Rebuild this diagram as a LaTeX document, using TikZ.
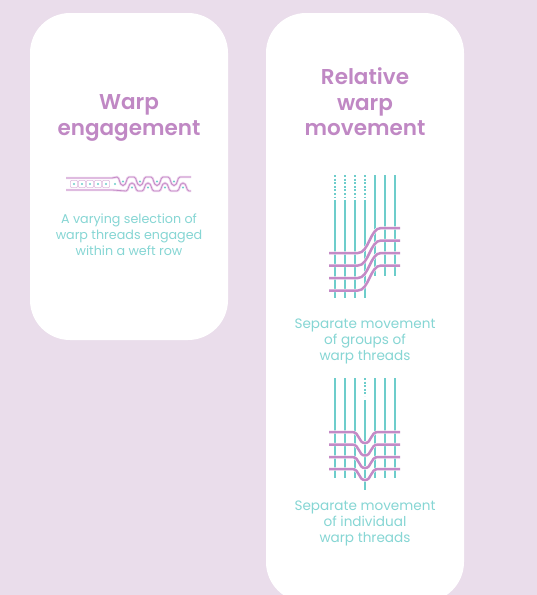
\documentclass[tikz,border=0pt]{standalone}
\usepackage{fontspec}
\setmainfont{Poppins}[BoldFont=* SemiBold]
\definecolor{bgcol}{HTML}{EADDEB}
\definecolor{titlecol}{HTML}{C088C4}
\definecolor{textcol}{HTML}{86D6D4}
\definecolor{warpcol}{HTML}{6DCDCB}
\definecolor{weftcol}{HTML}{C48AC6}
\definecolor{haze}{HTML}{EFD6EF}

\begin{document}
\begin{tikzpicture}[x=1pt,y=-1pt,
		card/.style = {fill=white,rounded corners=40pt},
		title/.style = {text=titlecol,align=center,font=\fontsize{21.5}{25.5}\selectfont\bfseries},
		caption/.style = {text=textcol,align=center,font=\fontsize{12.7}{15.8}\selectfont},
		bigcaption/.style = {caption,font=\fontsize{13.6}{16}\selectfont},
		warp/.style = {draw=warpcol,line width=2.4pt},
		ghost/.style = {warp,dash pattern=on 2pt off 1.6pt},
		weft/.style = {draw=weftcol,line width=2.5pt,preaction={draw=white,line width=3.4pt}},
		thin/.style = {draw=weftcol,line width=0.8pt,preaction={draw=haze,line width=2.4pt}},
		pick/.style = {fill=warpcol,circle,inner sep=0pt,minimum size=2.4pt}]
	\useasboundingbox (0,0) rectangle (537,595);
	\clip (0,0) rectangle (537,595);
	\fill[bgcol] (0,0) rectangle (537,595);
	\fill[card] (30,13) rectangle (228,340);
	\fill[card] (266,13) rectangle (464,602);

	% left card
	\node[title] (engTitle) at (129,118) {Warp\\engagement};
	\node[caption] (engText) at (129,235) {A varying selection of\\warp threads engaged\\within a weft row};

	\draw[thin] (66,178) -- (112,178)
		\foreach \t in {123,140,157,174} {-- (\t-6,177) .. controls (\t-3,177) and (\t-4,185.5) .. (\t,185.5) .. controls (\t+4,185.5) and (\t+3,177) .. (\t+6,177)}
		-- (191,177);
	\draw[thin] (66,190) -- (112,190)
		\foreach \b in {132,148,165,183} {-- (\b-6,191) .. controls (\b-3,191) and (\b-4,183) .. (\b,183) .. controls (\b+4,183) and (\b+3,191) .. (\b+6,191)}
		-- (191,191);
	\foreach \s in {74,82,90,98,106} {
		\draw[weftcol!60,line width=0.6pt,fill=white,rounded corners=1pt] (\s-3.6,180.4) rectangle (\s+3.6,187.6);
		\node[pick] at (\s,184) {};
	}
	\node[pick] at (115,184) {};
	\foreach \t in {123,140,157,174} \node[pick] at (\t,181.5) {};
	\foreach \b in {132,148,165,183} \node[pick] at (\b,187.5) {};

	% right card
	\node[title] (moveTitle) at (365,102) {Relative\\warp\\movement};

	\foreach \x in {335,345,355,365} {
		\draw[ghost] (\x,175) -- (\x,197);
		\draw[warp] (\x,200) -- (\x,298);
	}
	\foreach \x in {375,385,395}
		\draw[warp] (\x,175) -- (\x,276);
	\foreach \y in {253,265.5,278,290.5}
		\draw[weft] (329,\y) -- (358,\y) .. controls (369,\y) and (370,\y-25) .. (381,\y-25) -- (400,\y-25);
	\node[bigcaption] (groupText) at (365,341) {Separate movement\\of groups of\\warp threads};

	\foreach \x in {335,345,355,375,385,395}
		\draw[warp] (\x,378) -- (\x,478);
	\draw[ghost] (365,378) -- (365,396);
	\draw[warp] (365,400) -- (365,490);
	\foreach \y in {432,444.5,457,469}
		\draw[weft] (329,\y) -- (352,\y) .. controls (360,\y) and (358,\y+11) .. (365,\y+11) .. controls (372,\y+11) and (370,\y) .. (378,\y) -- (400,\y);
	\node[bigcaption] (singleText) at (365,523) {Separate movement\\of individual\\warp threads};
\end{tikzpicture}
\end{document}
